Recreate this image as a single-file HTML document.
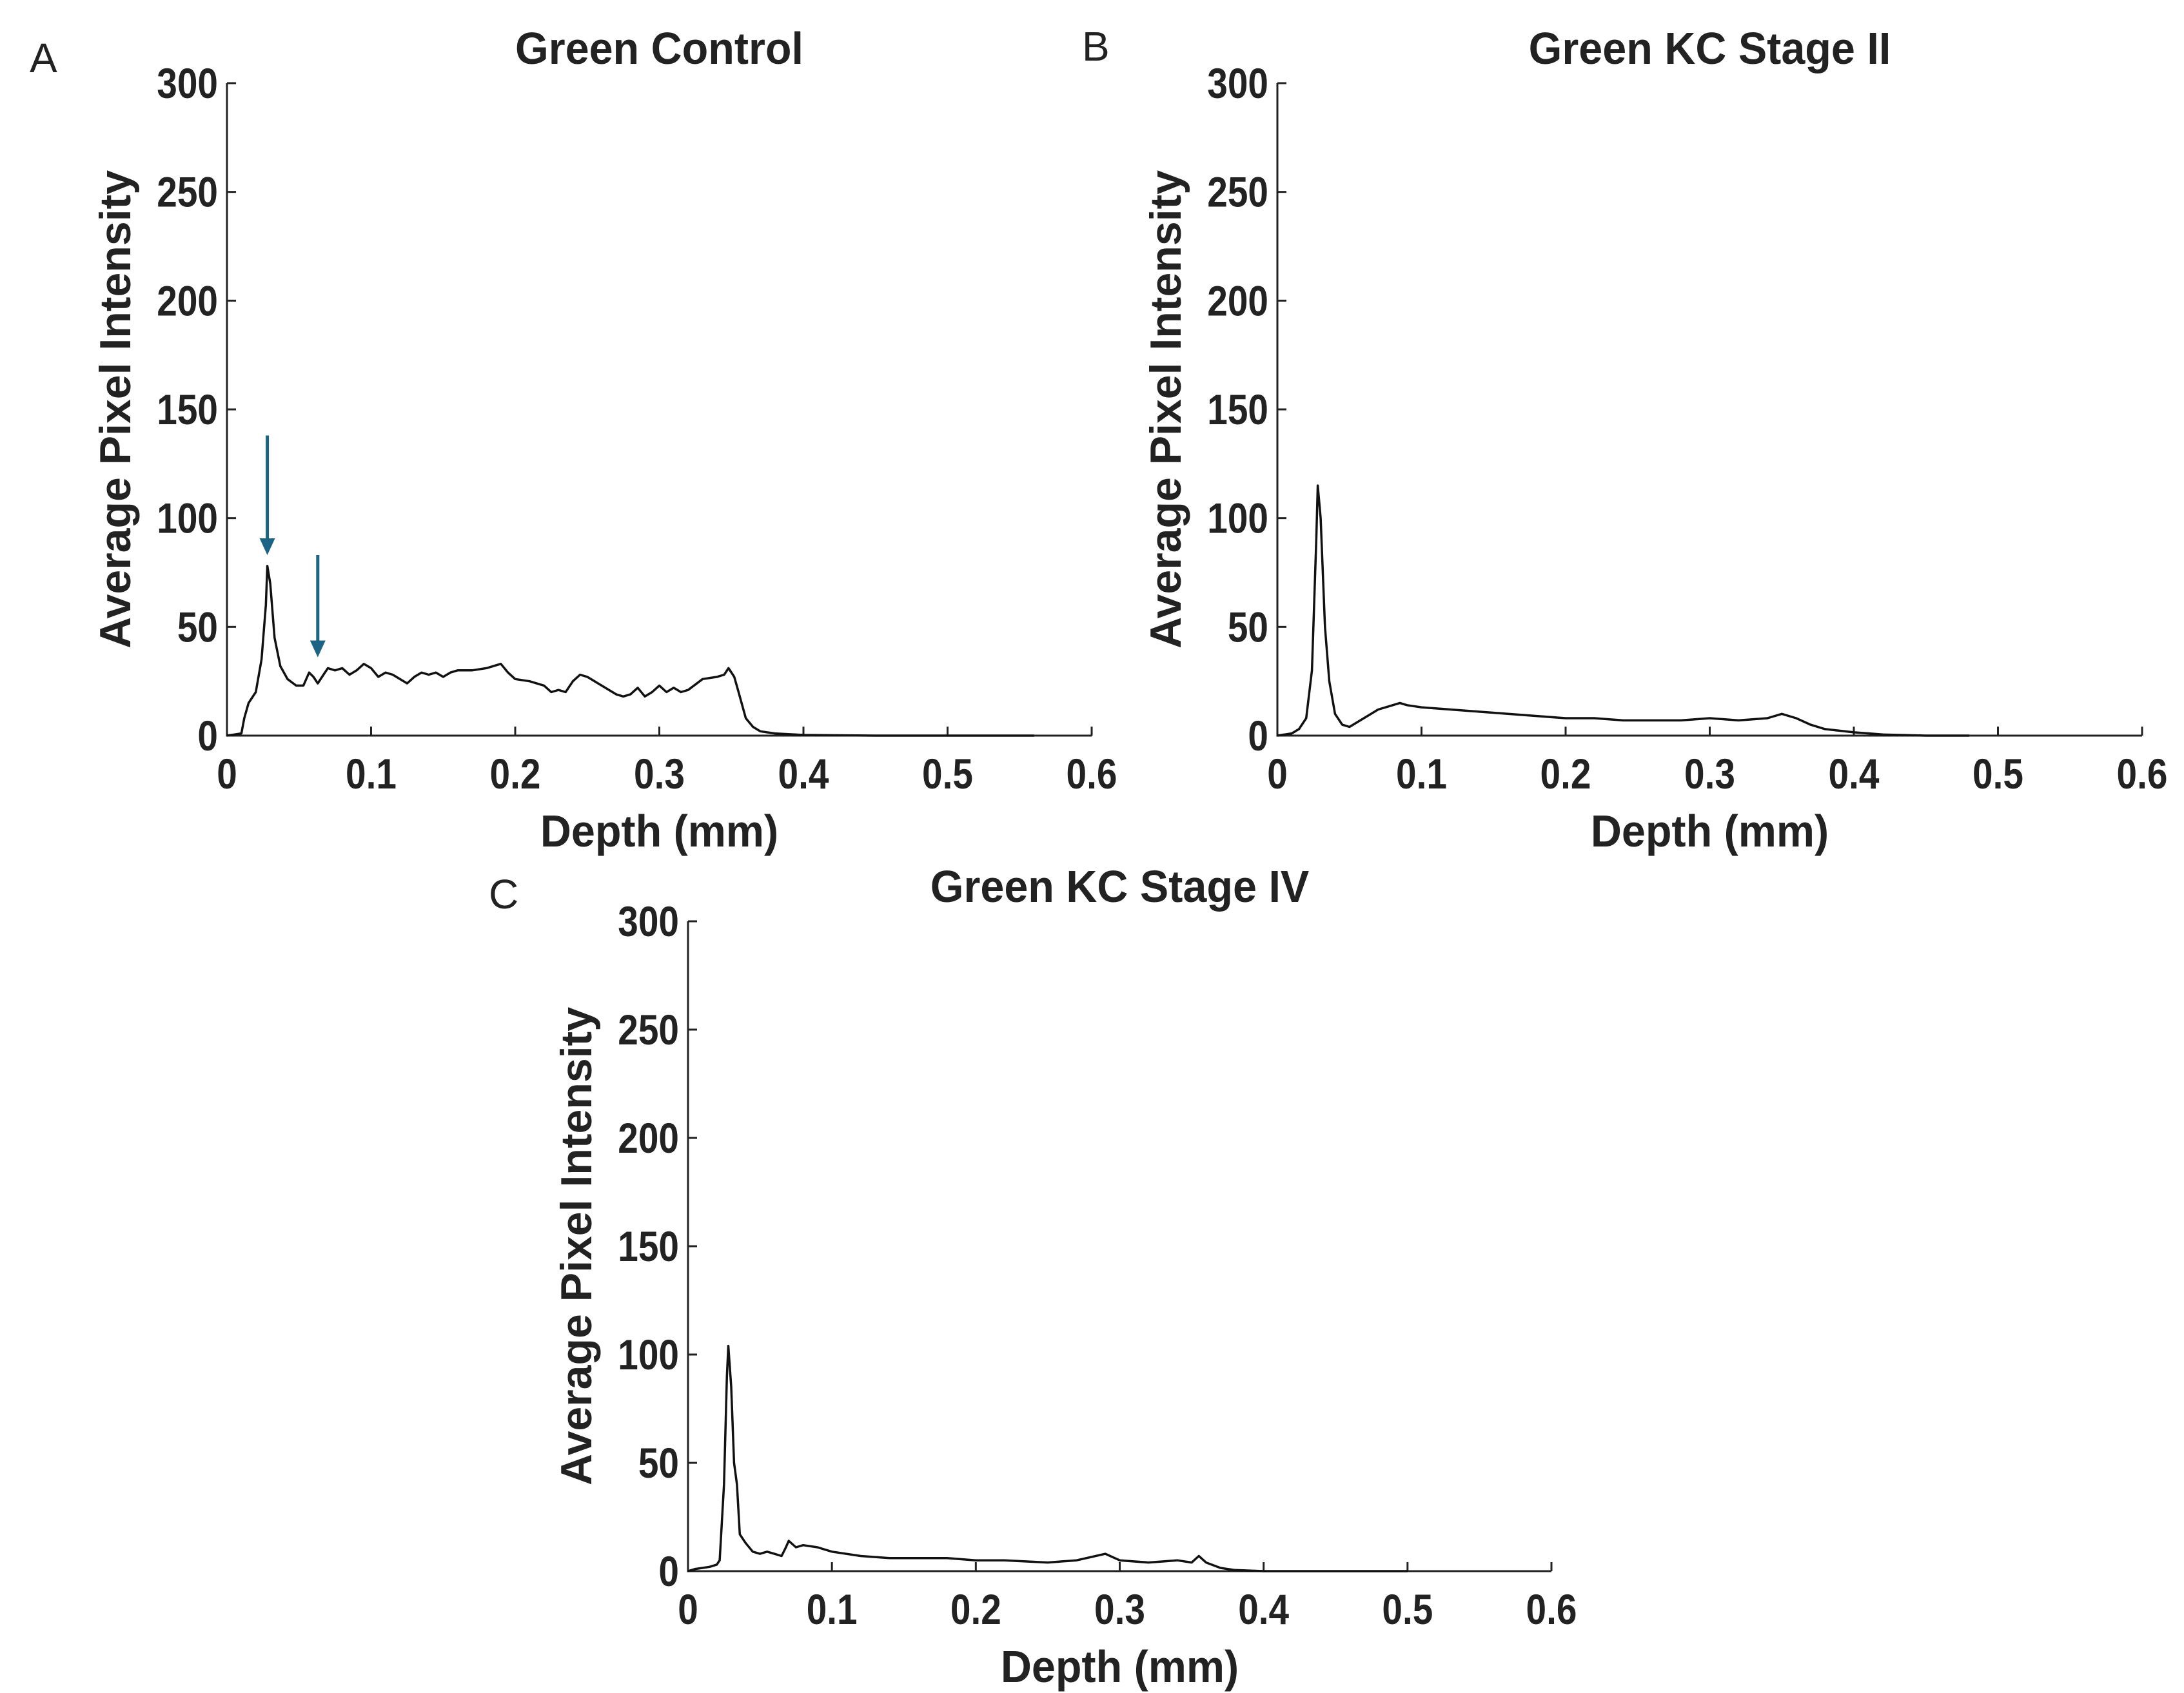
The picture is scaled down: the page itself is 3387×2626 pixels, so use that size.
<!DOCTYPE html>
<html><head><meta charset="utf-8"><style>
html,body{margin:0;padding:0;background:#fff;}
svg{display:block;}
text{font-family:"Liberation Sans",Arial,sans-serif;fill:#222;}
.b{font-weight:bold;}
</style></head><body>
<svg id="fig" width="3387" height="2626" viewBox="0 0 3387 2626" xmlns="http://www.w3.org/2000/svg"></svg>
<script>
const xTicks = [0, 0.1, 0.2, 0.3, 0.4, 0.5, 0.6];
const xTickLabels = ["0", "0.1", "0.2", "0.3", "0.4", "0.5", "0.6"];
const yTicks = [0, 50, 100, 150, 200, 250, 300];
const yTickLabels = ["0", "50", "100", "150", "200", "250", "300"];

const depthA = [0,0.005,0.01,0.012,0.015,0.02,0.024,0.027,0.028,0.03,0.033,0.037,0.042,0.048,0.053,0.057,0.06,0.063,0.067,0.07,0.075,0.08,0.085,0.09,0.095,0.1,0.105,0.11,0.115,0.12,0.125,0.13,0.135,0.14,0.145,0.15,0.155,0.16,0.17,0.18,0.185,0.19,0.195,0.2,0.21,0.22,0.225,0.23,0.235,0.24,0.245,0.25,0.26,0.27,0.275,0.28,0.285,0.29,0.295,0.3,0.305,0.31,0.315,0.32,0.33,0.34,0.345,0.348,0.352,0.355,0.36,0.365,0.37,0.38,0.4,0.45,0.56];
const intensityA = [0,0.5,1,8,15,20,35,60,78,70,45,32,26,23,23,29,27,24,28,31,30,31,28,30,33,31,27,29,28,26,24,27,29,28,29,27,29,30,30,31,32,33,29,26,25,23,20,21,20,25,28,27,23,19,18,19,22,18,20,23,20,22,20,21,26,27,28,31,27,20,8,4,2,1,0.3,0,0];

const depthB = [0,0.01,0.015,0.02,0.024,0.027,0.028,0.03,0.033,0.036,0.04,0.045,0.05,0.06,0.07,0.08,0.085,0.09,0.1,0.12,0.14,0.16,0.18,0.2,0.22,0.24,0.26,0.28,0.3,0.32,0.34,0.35,0.36,0.37,0.38,0.4,0.42,0.45,0.48];
const intensityB = [0,1,3,8,30,90,115,100,50,25,10,5,4,8,12,14,15,14,13,12,11,10,9,8,8,7,7,7,8,7,8,10,8,5,3,1.5,0.5,0,0];

const depthC = [0,0.005,0.01,0.015,0.02,0.022,0.025,0.027,0.028,0.03,0.032,0.034,0.036,0.04,0.045,0.05,0.055,0.06,0.065,0.068,0.07,0.075,0.08,0.09,0.1,0.12,0.14,0.16,0.18,0.2,0.22,0.25,0.27,0.29,0.3,0.32,0.34,0.35,0.355,0.36,0.37,0.38,0.4,0.5];
const intensityC = [0,1,1.5,2,3,5,40,90,104,85,50,40,17,13,9,8,9,8,7,11,14,11,12,11,9,7,6,6,6,5,5,4,5,8,5,4,5,4,7,4,1.5,0.5,0,0];

const arrowX = [0.028, 0.063];
const arrowTop = [138, 83];
const arrowTip = [83, 36];

const NS = "http://www.w3.org/2000/svg";
const svg = document.getElementById('fig');
function mk(tag, attrs, parent){const e=document.createElementNS(NS,tag);for(const k in attrs)e.setAttribute(k,attrs[k]);(parent||svg).appendChild(e);return e;}
function stext(parent, x, y, str, size, anchor, sx, rot){
  const t = mk('text',{x:0,y:0,'text-anchor':anchor,'font-size':size,class:'b',
    transform:`translate(${x} ${y}) rotate(${rot||0}) scale(${sx} 1)`},parent);
  t.textContent = str;
  return t;
}

function panel(p){
  const g = mk('g',{});
  
  
  const sx = v => p.x0 + (v/0.6)*(p.x1-p.x0);
  const sy = v => p.y0 - (v/300)*(p.y0-p.y1);
  const ax = mk('path',{d:`M${p.x0},${p.y1} L${p.x0},${p.y0} L${p.x1},${p.y0}`,fill:'none',stroke:'#222','stroke-width':3},g);
  
  
  xTicks.forEach((t,i)=>{
    mk('line',{x1:sx(t),x2:sx(t),y1:p.y0,y2:p.y0-14,stroke:'#222','stroke-width':3},g);
    const tx = stext(g, sx(t), p.y0+82, xTickLabels[i], 66, 'middle', 0.86);
    
    
  });
  yTicks.forEach((t,i)=>{
    mk('line',{x1:p.x0,x2:p.x0+14,y1:sy(t),y2:sy(t),stroke:'#222','stroke-width':3},g);
    const tx = stext(g, p.x0-14, sy(t)+23, yTickLabels[i], 66, 'end', 0.86);
    
    
  });
  const pts = p.dx.map((d,i)=>`${sx(d).toFixed(1)},${sy(p.dy[i]).toFixed(1)}`).join(' ');
  const ln = mk('polyline',{points:pts,fill:'none',stroke:'#111','stroke-width':3.5,'stroke-linejoin':'round'},g);
  
  
  const cx = (p.x0+p.x1)/2;
  const ti = stext(g, cx, p.y1-30, p.title, 70, 'middle', 0.95);
  
  
  const xl = stext(g, cx, p.y0+172, 'Depth (mm)', 70, 'middle', 0.95);
  
  
  const yl = stext(g, p.x0-150, (p.y0+p.y1)/2, 'Average Pixel Intensity', 68, 'middle', 1.0, -90);
  
  
  const lt = mk('text',{x:p.lx,y:p.ly,'font-size':64},g);
  lt.textContent = p.letter;
  
  
  return {sx, sy, g};
}

const A = panel({id:'green-control',x0:352,x1:1693,y0:1141,y1:129,title:'Green Control',letter:'A',lx:46,ly:112,dx:depthA,dy:intensityA});
panel({id:'green-kc-stage-ii',x0:1981,x1:3322,y0:1141,y1:129,title:'Green KC Stage II',letter:'B',lx:1678,ly:94,dx:depthB,dy:intensityB});
panel({id:'green-kc-stage-iv',x0:1067,x1:2406,y0:2437,y1:1429,title:'Green KC Stage IV',letter:'C',lx:758,ly:1409,dx:depthC,dy:intensityC});

arrowX.forEach((d,i)=>{
  const x = A.sx(d), yt = A.sy(arrowTop[i]), yp = A.sy(arrowTip[i]);
  const ag = mk('g',{},A.g);
  
  
  mk('line',{x1:x,x2:x,y1:yt,y2:yp-20,stroke:'#1d6384','stroke-width':5},ag);
  mk('polygon',{points:`${x-12},${yp-26} ${x+12},${yp-26} ${x},${yp}`,fill:'#1d6384'},ag);
});
</script>
</body></html>
